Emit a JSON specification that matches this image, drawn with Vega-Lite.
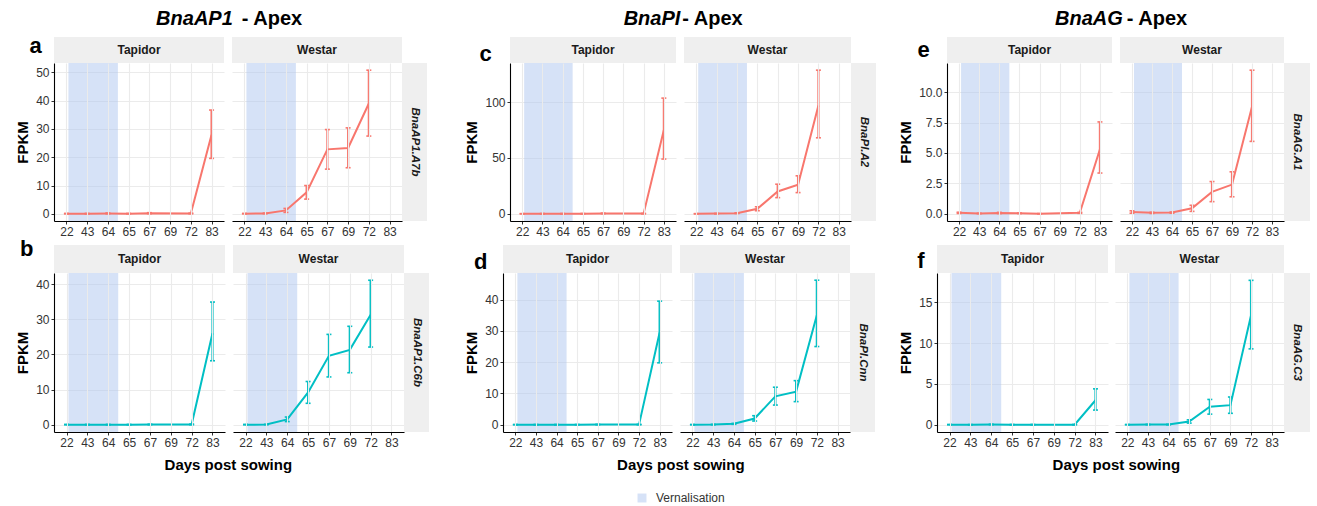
{
"$schema": "https://vega.github.io/schema/vega-lite/v6.json",
"padding": {"left": 15, "top": 9, "right": 0, "bottom": 0},
"config": {
 "font": "Liberation Sans",
 "view": {"stroke": null},
 "axis": {"gridColor": "#ebebeb", "gridWidth": 1.1, "domainColor": "#000000", "domainWidth": 1.1, "tickColor": "#333333", "tickSize": 3, "labelColor": "#333333", "labelFontSize": 12, "labelPadding": 2, "titleFontSize": 15, "titleFontWeight": "bold", "titleColor": "#000000", "titlePadding": 5},
 "title": {"color": "#000000"}
},
"datasets": {
 "vern": [{"start": "22", "end": "64", "label": "Vernalisation"}],
 "expr": [
  {"gene": "BnaAP1.A7b", "cultivar": "Tapidor", "day": "22", "mean": 0.05, "lo": 0, "hi": 0.15},
  {"gene": "BnaAP1.A7b", "cultivar": "Tapidor", "day": "43", "mean": 0.05, "lo": 0, "hi": 0.15},
  {"gene": "BnaAP1.A7b", "cultivar": "Tapidor", "day": "64", "mean": 0.1, "lo": 0, "hi": 0.3},
  {"gene": "BnaAP1.A7b", "cultivar": "Tapidor", "day": "65", "mean": 0.05, "lo": 0, "hi": 0.15},
  {"gene": "BnaAP1.A7b", "cultivar": "Tapidor", "day": "67", "mean": 0.2, "lo": 0.05, "hi": 0.4},
  {"gene": "BnaAP1.A7b", "cultivar": "Tapidor", "day": "72", "mean": 0.1, "lo": 0, "hi": 0.25},
  {"gene": "BnaAP1.A7b", "cultivar": "Tapidor", "day": "83", "mean": 28, "lo": 19.6, "hi": 36.7},
  {"gene": "BnaAP1.A7b", "cultivar": "Westar", "day": "22", "mean": 0.05, "lo": 0, "hi": 0.15},
  {"gene": "BnaAP1.A7b", "cultivar": "Westar", "day": "43", "mean": 0.15, "lo": 0.05, "hi": 0.3},
  {"gene": "BnaAP1.A7b", "cultivar": "Westar", "day": "64", "mean": 1.2, "lo": 0.5, "hi": 1.9},
  {"gene": "BnaAP1.A7b", "cultivar": "Westar", "day": "65", "mean": 7.6, "lo": 5.2, "hi": 10},
  {"gene": "BnaAP1.A7b", "cultivar": "Westar", "day": "67", "mean": 22.8, "lo": 15.8, "hi": 29.8},
  {"gene": "BnaAP1.A7b", "cultivar": "Westar", "day": "69", "mean": 23.3, "lo": 16.3, "hi": 30.4},
  {"gene": "BnaAP1.A7b", "cultivar": "Westar", "day": "72", "mean": 39, "lo": 27.5, "hi": 50.8},
  {"gene": "BnaAP1.C6b", "cultivar": "Tapidor", "day": "22", "mean": 0, "lo": 0, "hi": 0.1},
  {"gene": "BnaAP1.C6b", "cultivar": "Tapidor", "day": "43", "mean": 0, "lo": 0, "hi": 0.1},
  {"gene": "BnaAP1.C6b", "cultivar": "Tapidor", "day": "64", "mean": 0, "lo": 0, "hi": 0.1},
  {"gene": "BnaAP1.C6b", "cultivar": "Tapidor", "day": "65", "mean": 0, "lo": 0, "hi": 0.1},
  {"gene": "BnaAP1.C6b", "cultivar": "Tapidor", "day": "67", "mean": 0.05, "lo": 0, "hi": 0.15},
  {"gene": "BnaAP1.C6b", "cultivar": "Tapidor", "day": "72", "mean": 0.1, "lo": 0, "hi": 0.2},
  {"gene": "BnaAP1.C6b", "cultivar": "Tapidor", "day": "83", "mean": 26, "lo": 18.2, "hi": 34.9},
  {"gene": "BnaAP1.C6b", "cultivar": "Westar", "day": "22", "mean": 0, "lo": 0, "hi": 0.1},
  {"gene": "BnaAP1.C6b", "cultivar": "Westar", "day": "43", "mean": 0.05, "lo": 0, "hi": 0.15},
  {"gene": "BnaAP1.C6b", "cultivar": "Westar", "day": "64", "mean": 1.5, "lo": 0.9, "hi": 2.2},
  {"gene": "BnaAP1.C6b", "cultivar": "Westar", "day": "65", "mean": 9.2, "lo": 6.1, "hi": 12.3},
  {"gene": "BnaAP1.C6b", "cultivar": "Westar", "day": "67", "mean": 19.6, "lo": 13.6, "hi": 25.7},
  {"gene": "BnaAP1.C6b", "cultivar": "Westar", "day": "69", "mean": 21.3, "lo": 14.8, "hi": 28},
  {"gene": "BnaAP1.C6b", "cultivar": "Westar", "day": "72", "mean": 31.3, "lo": 22.1, "hi": 41.1},
  {"gene": "BnaPI.A2", "cultivar": "Tapidor", "day": "22", "mean": 0, "lo": 0, "hi": 0.2},
  {"gene": "BnaPI.A2", "cultivar": "Tapidor", "day": "43", "mean": 0.1, "lo": 0, "hi": 0.3},
  {"gene": "BnaPI.A2", "cultivar": "Tapidor", "day": "64", "mean": 0.1, "lo": 0, "hi": 0.3},
  {"gene": "BnaPI.A2", "cultivar": "Tapidor", "day": "65", "mean": 0.1, "lo": 0, "hi": 0.3},
  {"gene": "BnaPI.A2", "cultivar": "Tapidor", "day": "67", "mean": 0.3, "lo": 0.1, "hi": 0.6},
  {"gene": "BnaPI.A2", "cultivar": "Tapidor", "day": "72", "mean": 0.2, "lo": 0, "hi": 0.4},
  {"gene": "BnaPI.A2", "cultivar": "Tapidor", "day": "83", "mean": 75, "lo": 49, "hi": 103.5},
  {"gene": "BnaPI.A2", "cultivar": "Westar", "day": "22", "mean": 0, "lo": 0, "hi": 0.2},
  {"gene": "BnaPI.A2", "cultivar": "Westar", "day": "43", "mean": 0.2, "lo": 0, "hi": 0.4},
  {"gene": "BnaPI.A2", "cultivar": "Westar", "day": "64", "mean": 0.6, "lo": 0.3, "hi": 0.9},
  {"gene": "BnaPI.A2", "cultivar": "Westar", "day": "65", "mean": 4.5, "lo": 2.8, "hi": 6.3},
  {"gene": "BnaPI.A2", "cultivar": "Westar", "day": "67", "mean": 20, "lo": 14.5, "hi": 26.5},
  {"gene": "BnaPI.A2", "cultivar": "Westar", "day": "69", "mean": 26, "lo": 19, "hi": 34},
  {"gene": "BnaPI.A2", "cultivar": "Westar", "day": "72", "mean": 97, "lo": 68, "hi": 128.5},
  {"gene": "BnaPI.Cnn", "cultivar": "Tapidor", "day": "22", "mean": 0, "lo": 0, "hi": 0.1},
  {"gene": "BnaPI.Cnn", "cultivar": "Tapidor", "day": "43", "mean": 0, "lo": 0, "hi": 0.1},
  {"gene": "BnaPI.Cnn", "cultivar": "Tapidor", "day": "64", "mean": 0, "lo": 0, "hi": 0.1},
  {"gene": "BnaPI.Cnn", "cultivar": "Tapidor", "day": "65", "mean": 0, "lo": 0, "hi": 0.1},
  {"gene": "BnaPI.Cnn", "cultivar": "Tapidor", "day": "67", "mean": 0.05, "lo": 0, "hi": 0.15},
  {"gene": "BnaPI.Cnn", "cultivar": "Tapidor", "day": "72", "mean": 0.05, "lo": 0, "hi": 0.15},
  {"gene": "BnaPI.Cnn", "cultivar": "Tapidor", "day": "83", "mean": 29.5, "lo": 19.8, "hi": 39.5},
  {"gene": "BnaPI.Cnn", "cultivar": "Westar", "day": "22", "mean": 0, "lo": 0, "hi": 0.1},
  {"gene": "BnaPI.Cnn", "cultivar": "Westar", "day": "43", "mean": 0.05, "lo": 0, "hi": 0.15},
  {"gene": "BnaPI.Cnn", "cultivar": "Westar", "day": "64", "mean": 0.3, "lo": 0.15, "hi": 0.45},
  {"gene": "BnaPI.Cnn", "cultivar": "Westar", "day": "65", "mean": 2, "lo": 1.2, "hi": 2.9},
  {"gene": "BnaPI.Cnn", "cultivar": "Westar", "day": "67", "mean": 9.1, "lo": 6.3, "hi": 12},
  {"gene": "BnaPI.Cnn", "cultivar": "Westar", "day": "69", "mean": 10.6, "lo": 7.4, "hi": 14.1},
  {"gene": "BnaPI.Cnn", "cultivar": "Westar", "day": "72", "mean": 35, "lo": 25, "hi": 46.2},
  {"gene": "BnaAG.A1", "cultivar": "Tapidor", "day": "22", "mean": 0.08, "lo": 0.03, "hi": 0.13},
  {"gene": "BnaAG.A1", "cultivar": "Tapidor", "day": "43", "mean": 0.03, "lo": 0.01, "hi": 0.05},
  {"gene": "BnaAG.A1", "cultivar": "Tapidor", "day": "64", "mean": 0.07, "lo": 0.02, "hi": 0.12},
  {"gene": "BnaAG.A1", "cultivar": "Tapidor", "day": "65", "mean": 0.04, "lo": 0.02, "hi": 0.06},
  {"gene": "BnaAG.A1", "cultivar": "Tapidor", "day": "67", "mean": 0, "lo": 0, "hi": 0.02},
  {"gene": "BnaAG.A1", "cultivar": "Tapidor", "day": "72", "mean": 0.08, "lo": 0.04, "hi": 0.12},
  {"gene": "BnaAG.A1", "cultivar": "Tapidor", "day": "83", "mean": 5.3, "lo": 3.35, "hi": 7.55},
  {"gene": "BnaAG.A1", "cultivar": "Westar", "day": "22", "mean": 0.15, "lo": 0.05, "hi": 0.25},
  {"gene": "BnaAG.A1", "cultivar": "Westar", "day": "43", "mean": 0.08, "lo": 0.03, "hi": 0.13},
  {"gene": "BnaAG.A1", "cultivar": "Westar", "day": "64", "mean": 0.1, "lo": 0.05, "hi": 0.15},
  {"gene": "BnaAG.A1", "cultivar": "Westar", "day": "65", "mean": 0.45, "lo": 0.2, "hi": 0.7},
  {"gene": "BnaAG.A1", "cultivar": "Westar", "day": "67", "mean": 1.8, "lo": 1.0, "hi": 2.65},
  {"gene": "BnaAG.A1", "cultivar": "Westar", "day": "69", "mean": 2.4, "lo": 1.4, "hi": 3.45},
  {"gene": "BnaAG.A1", "cultivar": "Westar", "day": "72", "mean": 8.8, "lo": 5.95, "hi": 11.8},
  {"gene": "BnaAG.C3", "cultivar": "Tapidor", "day": "22", "mean": 0, "lo": 0, "hi": 0.03},
  {"gene": "BnaAG.C3", "cultivar": "Tapidor", "day": "43", "mean": 0.01, "lo": 0, "hi": 0.03},
  {"gene": "BnaAG.C3", "cultivar": "Tapidor", "day": "64", "mean": 0.03, "lo": 0.01, "hi": 0.05},
  {"gene": "BnaAG.C3", "cultivar": "Tapidor", "day": "65", "mean": 0.01, "lo": 0, "hi": 0.03},
  {"gene": "BnaAG.C3", "cultivar": "Tapidor", "day": "67", "mean": 0.01, "lo": 0, "hi": 0.03},
  {"gene": "BnaAG.C3", "cultivar": "Tapidor", "day": "72", "mean": 0.01, "lo": 0, "hi": 0.03},
  {"gene": "BnaAG.C3", "cultivar": "Tapidor", "day": "83", "mean": 3, "lo": 1.8, "hi": 4.4},
  {"gene": "BnaAG.C3", "cultivar": "Westar", "day": "22", "mean": 0, "lo": 0, "hi": 0.03},
  {"gene": "BnaAG.C3", "cultivar": "Westar", "day": "43", "mean": 0.02, "lo": 0, "hi": 0.05},
  {"gene": "BnaAG.C3", "cultivar": "Westar", "day": "64", "mean": 0.02, "lo": 0, "hi": 0.05},
  {"gene": "BnaAG.C3", "cultivar": "Westar", "day": "65", "mean": 0.4, "lo": 0.2, "hi": 0.6},
  {"gene": "BnaAG.C3", "cultivar": "Westar", "day": "67", "mean": 2.2, "lo": 1.3, "hi": 3.1},
  {"gene": "BnaAG.C3", "cultivar": "Westar", "day": "69", "mean": 2.4, "lo": 1.4, "hi": 3.4},
  {"gene": "BnaAG.C3", "cultivar": "Westar", "day": "72", "mean": 13.4, "lo": 9.3, "hi": 17.7}
 ]
},
"spacing": 8,
"vconcat": [
{"spacing": 22, "hconcat": [
{"spacing": 35, "hconcat": [
{"title": {"text": "- Apex", "fontSize": 20, "fontWeight": "bold", "anchor": "middle", "align": "left", "dx": 19.5, "offset": -20},
 "vconcat": [
{"title": {"text": "BnaAP1", "fontSize": 20, "fontWeight": "bold", "fontStyle": "italic", "anchor": "middle", "align": "right", "dx": 10.5, "offset": 6},
 "spacing": 1,
 "vconcat": [
  {"columns": 4, "spacing": 0, "bounds": "flush", "concat": [
   {"width": 170, "height": 26, "data": {"values": [{"s": "Tapidor"}]}, "mark": {"type": "text", "fontWeight": "bold", "fontSize": 12, "color": "#1a1a1a"}, "encoding": {"text": {"field": "s"}}, "view": {"fill": "#efefef"},
    "title": {"text": "a", "orient": "left", "angle": 0, "align": "right", "baseline": "middle", "anchor": "middle", "fontSize": 22, "fontWeight": "bold", "offset": 0, "dy": -4}},
   {"width": 8, "height": 26, "data": {"values": [{"s": ""}]}, "mark": "text", "encoding": {"text": {"field": "s"}}},
   {"width": 170, "height": 26, "data": {"values": [{"s": "Westar"}]}, "mark": {"type": "text", "fontWeight": "bold", "fontSize": 12, "color": "#1a1a1a"}, "encoding": {"text": {"field": "s"}}, "view": {"fill": "#efefef"}},
   {"width": 25, "height": 26, "data": {"values": [{"s": ""}]}, "mark": "text", "encoding": {"text": {"field": "s"}}},
   {"width": 170, "height": 158, "layer": [
    {"data": {"name": "vern"}, "mark": {"type": "rect", "color": "#adc6f0", "opacity": 0.5, "xOffset": 2, "x2Offset": 10}, "encoding": {"x": {"field": "start", "type": "ordinal", "scale": {"type": "point", "padding": 0.6, "domain": ["22","43","64","65","67","69","72","83"]}, "axis": {"title": null, "grid": true, "labelAngle": 0}}, "x2": {"field": "end"}}},
    {"data": {"name": "expr"}, "transform": [{"filter": "datum.gene === 'BnaAP1.A7b' && datum.cultivar === 'Tapidor'"}], "mark": {"type": "line", "color": "#F8766D", "strokeWidth": 2},
     "encoding": {"x": {"field": "day", "type": "ordinal", "scale": {"type": "point", "padding": 0.6, "domain": ["22","43","64","65","67","69","72","83"]}, "axis": {"title": null, "grid": true, "labelAngle": 0}}, "y": {"field": "mean", "type": "quantitative", "scale": {"domain": [-2.54, 53.34], "nice": false, "zero": false}, "axis": {"title": "FPKM", "values": [0,10,20,30,40,50], "grid": true}}}},
    {"data": {"name": "expr"}, "transform": [{"filter": "datum.gene === 'BnaAP1.A7b' && datum.cultivar === 'Tapidor'"}], "mark": {"type": "rule", "color": "#F8766D", "strokeWidth": 2.2},
     "encoding": {"x": {"field": "day", "type": "ordinal", "scale": {"type": "point", "padding": 0.6, "domain": ["22","43","64","65","67","69","72","83"]}, "axis": {"title": null, "grid": true, "labelAngle": 0}}, "y": {"field": "lo", "type": "quantitative", "scale": {"domain": [-2.54, 53.34], "nice": false, "zero": false}, "axis": {"title": "FPKM", "values": [0,10,20,30,40,50], "grid": true}}, "y2": {"field": "hi"}}},
    {"data": {"name": "expr"}, "transform": [{"filter": "datum.gene === 'BnaAP1.A7b' && datum.cultivar === 'Tapidor'"}, {"fold": ["lo", "hi"], "as": ["k", "v"]}], "mark": {"type": "tick", "color": "#F8766D", "thickness": 1.6, "size": 5, "opacity": 1, "orient": "horizontal"},
     "encoding": {"x": {"field": "day", "type": "ordinal", "scale": {"type": "point", "padding": 0.6, "domain": ["22","43","64","65","67","69","72","83"]}, "axis": {"title": null, "grid": true, "labelAngle": 0}}, "y": {"field": "v", "type": "quantitative", "scale": {"domain": [-2.54, 53.34], "nice": false, "zero": false}, "axis": {"title": "FPKM", "values": [0,10,20,30,40,50], "grid": true}}}}
   ]},
   {"width": 8, "height": 158, "data": {"values": [{"s": ""}]}, "mark": "text", "encoding": {"text": {"field": "s"}}},
   {"width": 170, "height": 158, "layer": [
    {"data": {"name": "vern"}, "mark": {"type": "rect", "color": "#adc6f0", "opacity": 0.5, "xOffset": 2, "x2Offset": 10}, "encoding": {"x": {"field": "start", "type": "ordinal", "scale": {"type": "point", "padding": 0.6, "domain": ["22","43","64","65","67","69","72","83"]}, "axis": {"title": null, "grid": true, "labelAngle": 0}}, "x2": {"field": "end"}}},
    {"data": {"name": "expr"}, "transform": [{"filter": "datum.gene === 'BnaAP1.A7b' && datum.cultivar === 'Westar'"}], "mark": {"type": "line", "color": "#F8766D", "strokeWidth": 2},
     "encoding": {"x": {"field": "day", "type": "ordinal", "scale": {"type": "point", "padding": 0.6, "domain": ["22","43","64","65","67","69","72","83"]}, "axis": {"title": null, "grid": true, "labelAngle": 0}}, "y": {"field": "mean", "type": "quantitative", "scale": {"domain": [-2.54, 53.34], "nice": false, "zero": false}, "axis": {"title": null, "values": [0,10,20,30,40,50], "grid": true, "labels": false, "ticks": false, "domain": false}}}},
    {"data": {"name": "expr"}, "transform": [{"filter": "datum.gene === 'BnaAP1.A7b' && datum.cultivar === 'Westar'"}], "mark": {"type": "rule", "color": "#F8766D", "strokeWidth": 2.2},
     "encoding": {"x": {"field": "day", "type": "ordinal", "scale": {"type": "point", "padding": 0.6, "domain": ["22","43","64","65","67","69","72","83"]}, "axis": {"title": null, "grid": true, "labelAngle": 0}}, "y": {"field": "lo", "type": "quantitative", "scale": {"domain": [-2.54, 53.34], "nice": false, "zero": false}, "axis": {"title": null, "values": [0,10,20,30,40,50], "grid": true, "labels": false, "ticks": false, "domain": false}}, "y2": {"field": "hi"}}},
    {"data": {"name": "expr"}, "transform": [{"filter": "datum.gene === 'BnaAP1.A7b' && datum.cultivar === 'Westar'"}, {"fold": ["lo", "hi"], "as": ["k", "v"]}], "mark": {"type": "tick", "color": "#F8766D", "thickness": 1.6, "size": 5, "opacity": 1, "orient": "horizontal"},
     "encoding": {"x": {"field": "day", "type": "ordinal", "scale": {"type": "point", "padding": 0.6, "domain": ["22","43","64","65","67","69","72","83"]}, "axis": {"title": null, "grid": true, "labelAngle": 0}}, "y": {"field": "v", "type": "quantitative", "scale": {"domain": [-2.54, 53.34], "nice": false, "zero": false}, "axis": {"title": null, "values": [0,10,20,30,40,50], "grid": true, "labels": false, "ticks": false, "domain": false}}}}
   ]},
   {"width": 25, "height": 158, "data": {"values": [{"s": "BnaAP1.A7b"}]}, "mark": {"type": "text", "angle": 90, "fontStyle": "italic", "fontWeight": "bold", "fontSize": 11.5, "color": "#1a1a1a"}, "encoding": {"text": {"field": "s"}}, "view": {"fill": "#efefef"}}
  ]},
  {"columns": 4, "spacing": 0, "bounds": "flush",
   "title": {"text": "Days post sowing", "orient": "bottom", "anchor": "middle", "fontSize": 15, "fontWeight": "bold", "dx": 6, "offset": 10},
   "concat": [
   {"width": 171, "height": 28, "data": {"values": [{"s": "Tapidor"}]}, "mark": {"type": "text", "fontWeight": "bold", "fontSize": 12, "color": "#1a1a1a"}, "encoding": {"text": {"field": "s"}}, "view": {"fill": "#efefef"},
    "title": {"text": "b", "orient": "left", "angle": 0, "align": "right", "baseline": "middle", "anchor": "middle", "fontSize": 22, "fontWeight": "bold", "offset": 7, "dy": -10}},
   {"width": 8, "height": 28, "data": {"values": [{"s": ""}]}, "mark": "text", "encoding": {"text": {"field": "s"}}},
   {"width": 171, "height": 28, "data": {"values": [{"s": "Westar"}]}, "mark": {"type": "text", "fontWeight": "bold", "fontSize": 12, "color": "#1a1a1a"}, "encoding": {"text": {"field": "s"}}, "view": {"fill": "#efefef"}},
   {"width": 25, "height": 28, "data": {"values": [{"s": ""}]}, "mark": "text", "encoding": {"text": {"field": "s"}}},
   {"width": 171, "height": 159, "layer": [
    {"data": {"name": "vern"}, "mark": {"type": "rect", "color": "#adc6f0", "opacity": 0.5, "xOffset": 2, "x2Offset": 10}, "encoding": {"x": {"field": "start", "type": "ordinal", "scale": {"type": "point", "padding": 0.6, "domain": ["22","43","64","65","67","69","72","83"]}, "axis": {"title": null, "grid": true, "labelAngle": 0}}, "x2": {"field": "end"}}},
    {"data": {"name": "expr"}, "transform": [{"filter": "datum.gene === 'BnaAP1.C6b' && datum.cultivar === 'Tapidor'"}], "mark": {"type": "line", "color": "#00BFC4", "strokeWidth": 2},
     "encoding": {"x": {"field": "day", "type": "ordinal", "scale": {"type": "point", "padding": 0.6, "domain": ["22","43","64","65","67","69","72","83"]}, "axis": {"title": null, "grid": true, "labelAngle": 0}}, "y": {"field": "mean", "type": "quantitative", "scale": {"domain": [-2.06, 43.16], "nice": false, "zero": false}, "axis": {"title": "FPKM", "values": [0,10,20,30,40], "grid": true}}}},
    {"data": {"name": "expr"}, "transform": [{"filter": "datum.gene === 'BnaAP1.C6b' && datum.cultivar === 'Tapidor'"}], "mark": {"type": "rule", "color": "#00BFC4", "strokeWidth": 2.2},
     "encoding": {"x": {"field": "day", "type": "ordinal", "scale": {"type": "point", "padding": 0.6, "domain": ["22","43","64","65","67","69","72","83"]}, "axis": {"title": null, "grid": true, "labelAngle": 0}}, "y": {"field": "lo", "type": "quantitative", "scale": {"domain": [-2.06, 43.16], "nice": false, "zero": false}, "axis": {"title": "FPKM", "values": [0,10,20,30,40], "grid": true}}, "y2": {"field": "hi"}}},
    {"data": {"name": "expr"}, "transform": [{"filter": "datum.gene === 'BnaAP1.C6b' && datum.cultivar === 'Tapidor'"}, {"fold": ["lo", "hi"], "as": ["k", "v"]}], "mark": {"type": "tick", "color": "#00BFC4", "thickness": 1.6, "size": 5, "opacity": 1, "orient": "horizontal"},
     "encoding": {"x": {"field": "day", "type": "ordinal", "scale": {"type": "point", "padding": 0.6, "domain": ["22","43","64","65","67","69","72","83"]}, "axis": {"title": null, "grid": true, "labelAngle": 0}}, "y": {"field": "v", "type": "quantitative", "scale": {"domain": [-2.06, 43.16], "nice": false, "zero": false}, "axis": {"title": "FPKM", "values": [0,10,20,30,40], "grid": true}}}}
   ]},
   {"width": 8, "height": 159, "data": {"values": [{"s": ""}]}, "mark": "text", "encoding": {"text": {"field": "s"}}},
   {"width": 171, "height": 159, "layer": [
    {"data": {"name": "vern"}, "mark": {"type": "rect", "color": "#adc6f0", "opacity": 0.5, "xOffset": 2, "x2Offset": 10}, "encoding": {"x": {"field": "start", "type": "ordinal", "scale": {"type": "point", "padding": 0.6, "domain": ["22","43","64","65","67","69","72","83"]}, "axis": {"title": null, "grid": true, "labelAngle": 0}}, "x2": {"field": "end"}}},
    {"data": {"name": "expr"}, "transform": [{"filter": "datum.gene === 'BnaAP1.C6b' && datum.cultivar === 'Westar'"}], "mark": {"type": "line", "color": "#00BFC4", "strokeWidth": 2},
     "encoding": {"x": {"field": "day", "type": "ordinal", "scale": {"type": "point", "padding": 0.6, "domain": ["22","43","64","65","67","69","72","83"]}, "axis": {"title": null, "grid": true, "labelAngle": 0}}, "y": {"field": "mean", "type": "quantitative", "scale": {"domain": [-2.06, 43.16], "nice": false, "zero": false}, "axis": {"title": null, "values": [0,10,20,30,40], "grid": true, "labels": false, "ticks": false, "domain": false}}}},
    {"data": {"name": "expr"}, "transform": [{"filter": "datum.gene === 'BnaAP1.C6b' && datum.cultivar === 'Westar'"}], "mark": {"type": "rule", "color": "#00BFC4", "strokeWidth": 2.2},
     "encoding": {"x": {"field": "day", "type": "ordinal", "scale": {"type": "point", "padding": 0.6, "domain": ["22","43","64","65","67","69","72","83"]}, "axis": {"title": null, "grid": true, "labelAngle": 0}}, "y": {"field": "lo", "type": "quantitative", "scale": {"domain": [-2.06, 43.16], "nice": false, "zero": false}, "axis": {"title": null, "values": [0,10,20,30,40], "grid": true, "labels": false, "ticks": false, "domain": false}}, "y2": {"field": "hi"}}},
    {"data": {"name": "expr"}, "transform": [{"filter": "datum.gene === 'BnaAP1.C6b' && datum.cultivar === 'Westar'"}, {"fold": ["lo", "hi"], "as": ["k", "v"]}], "mark": {"type": "tick", "color": "#00BFC4", "thickness": 1.6, "size": 5, "opacity": 1, "orient": "horizontal"},
     "encoding": {"x": {"field": "day", "type": "ordinal", "scale": {"type": "point", "padding": 0.6, "domain": ["22","43","64","65","67","69","72","83"]}, "axis": {"title": null, "grid": true, "labelAngle": 0}}, "y": {"field": "v", "type": "quantitative", "scale": {"domain": [-2.06, 43.16], "nice": false, "zero": false}, "axis": {"title": null, "values": [0,10,20,30,40], "grid": true, "labels": false, "ticks": false, "domain": false}}}}
   ]},
   {"width": 25, "height": 159, "data": {"values": [{"s": "BnaAP1.C6b"}]}, "mark": {"type": "text", "angle": 90, "fontStyle": "italic", "fontWeight": "bold", "fontSize": 11.5, "color": "#1a1a1a"}, "encoding": {"text": {"field": "s"}}, "view": {"fill": "#efefef"}}
  ]}
 ]}
 ]},
{"title": {"text": "- Apex", "fontSize": 20, "fontWeight": "bold", "anchor": "middle", "align": "left", "dx": 12, "offset": -20},
 "vconcat": [
{"title": {"text": "BnaPI", "fontSize": 20, "fontWeight": "bold", "fontStyle": "italic", "anchor": "middle", "align": "right", "dx": 10, "offset": 8},
 "spacing": 8,
 "vconcat": [
  {"columns": 5, "spacing": 0, "bounds": "flush", "concat": [
   {"width": 7, "height": 26, "data": {"values": [{"s": ""}]}, "mark": "text", "encoding": {"text": {"field": "s"}}},
   {"width": 166, "height": 26, "data": {"values": [{"s": "Tapidor"}]}, "mark": {"type": "text", "fontWeight": "bold", "fontSize": 12, "color": "#1a1a1a"}, "encoding": {"text": {"field": "s"}}, "view": {"fill": "#efefef"},
    "title": {"text": "c", "orient": "left", "angle": 0, "align": "right", "baseline": "middle", "anchor": "middle", "fontSize": 22, "fontWeight": "bold", "offset": 6, "dy": 4}},
   {"width": 8, "height": 26, "data": {"values": [{"s": ""}]}, "mark": "text", "encoding": {"text": {"field": "s"}}},
   {"width": 167, "height": 26, "data": {"values": [{"s": "Westar"}]}, "mark": {"type": "text", "fontWeight": "bold", "fontSize": 12, "color": "#1a1a1a"}, "encoding": {"text": {"field": "s"}}, "view": {"fill": "#efefef"}},
   {"width": 25, "height": 26, "data": {"values": [{"s": ""}]}, "mark": "text", "encoding": {"text": {"field": "s"}}},
   {"width": 7, "height": 158, "data": {"values": [{"s": ""}]}, "mark": "text", "encoding": {"text": {"field": "s"}}},
   {"width": 166, "height": 158, "layer": [
    {"data": {"name": "vern"}, "mark": {"type": "rect", "color": "#adc6f0", "opacity": 0.5, "xOffset": 2, "x2Offset": 10}, "encoding": {"x": {"field": "start", "type": "ordinal", "scale": {"type": "point", "padding": 0.6, "domain": ["22","43","64","65","67","69","72","83"]}, "axis": {"title": null, "grid": true, "labelAngle": 0}}, "x2": {"field": "end"}}},
    {"data": {"name": "expr"}, "transform": [{"filter": "datum.gene === 'BnaPI.A2' && datum.cultivar === 'Tapidor'"}], "mark": {"type": "line", "color": "#F8766D", "strokeWidth": 2},
     "encoding": {"x": {"field": "day", "type": "ordinal", "scale": {"type": "point", "padding": 0.6, "domain": ["22","43","64","65","67","69","72","83"]}, "axis": {"title": null, "grid": true, "labelAngle": 0}}, "y": {"field": "mean", "type": "quantitative", "scale": {"domain": [-6.4, 134.9], "nice": false, "zero": false}, "axis": {"title": "FPKM", "values": [0,50,100], "grid": true}}}},
    {"data": {"name": "expr"}, "transform": [{"filter": "datum.gene === 'BnaPI.A2' && datum.cultivar === 'Tapidor'"}], "mark": {"type": "rule", "color": "#F8766D", "strokeWidth": 2.2},
     "encoding": {"x": {"field": "day", "type": "ordinal", "scale": {"type": "point", "padding": 0.6, "domain": ["22","43","64","65","67","69","72","83"]}, "axis": {"title": null, "grid": true, "labelAngle": 0}}, "y": {"field": "lo", "type": "quantitative", "scale": {"domain": [-6.4, 134.9], "nice": false, "zero": false}, "axis": {"title": "FPKM", "values": [0,50,100], "grid": true}}, "y2": {"field": "hi"}}},
    {"data": {"name": "expr"}, "transform": [{"filter": "datum.gene === 'BnaPI.A2' && datum.cultivar === 'Tapidor'"}, {"fold": ["lo", "hi"], "as": ["k", "v"]}], "mark": {"type": "tick", "color": "#F8766D", "thickness": 1.6, "size": 5, "opacity": 1, "orient": "horizontal"},
     "encoding": {"x": {"field": "day", "type": "ordinal", "scale": {"type": "point", "padding": 0.6, "domain": ["22","43","64","65","67","69","72","83"]}, "axis": {"title": null, "grid": true, "labelAngle": 0}}, "y": {"field": "v", "type": "quantitative", "scale": {"domain": [-6.4, 134.9], "nice": false, "zero": false}, "axis": {"title": "FPKM", "values": [0,50,100], "grid": true}}}}
   ]},
   {"width": 8, "height": 158, "data": {"values": [{"s": ""}]}, "mark": "text", "encoding": {"text": {"field": "s"}}},
   {"width": 167, "height": 158, "layer": [
    {"data": {"name": "vern"}, "mark": {"type": "rect", "color": "#adc6f0", "opacity": 0.5, "xOffset": 2, "x2Offset": 10}, "encoding": {"x": {"field": "start", "type": "ordinal", "scale": {"type": "point", "padding": 0.6, "domain": ["22","43","64","65","67","69","72","83"]}, "axis": {"title": null, "grid": true, "labelAngle": 0}}, "x2": {"field": "end"}}},
    {"data": {"name": "expr"}, "transform": [{"filter": "datum.gene === 'BnaPI.A2' && datum.cultivar === 'Westar'"}], "mark": {"type": "line", "color": "#F8766D", "strokeWidth": 2},
     "encoding": {"x": {"field": "day", "type": "ordinal", "scale": {"type": "point", "padding": 0.6, "domain": ["22","43","64","65","67","69","72","83"]}, "axis": {"title": null, "grid": true, "labelAngle": 0}}, "y": {"field": "mean", "type": "quantitative", "scale": {"domain": [-6.4, 134.9], "nice": false, "zero": false}, "axis": {"title": null, "values": [0,50,100], "grid": true, "labels": false, "ticks": false, "domain": false}}}},
    {"data": {"name": "expr"}, "transform": [{"filter": "datum.gene === 'BnaPI.A2' && datum.cultivar === 'Westar'"}], "mark": {"type": "rule", "color": "#F8766D", "strokeWidth": 2.2},
     "encoding": {"x": {"field": "day", "type": "ordinal", "scale": {"type": "point", "padding": 0.6, "domain": ["22","43","64","65","67","69","72","83"]}, "axis": {"title": null, "grid": true, "labelAngle": 0}}, "y": {"field": "lo", "type": "quantitative", "scale": {"domain": [-6.4, 134.9], "nice": false, "zero": false}, "axis": {"title": null, "values": [0,50,100], "grid": true, "labels": false, "ticks": false, "domain": false}}, "y2": {"field": "hi"}}},
    {"data": {"name": "expr"}, "transform": [{"filter": "datum.gene === 'BnaPI.A2' && datum.cultivar === 'Westar'"}, {"fold": ["lo", "hi"], "as": ["k", "v"]}], "mark": {"type": "tick", "color": "#F8766D", "thickness": 1.6, "size": 5, "opacity": 1, "orient": "horizontal"},
     "encoding": {"x": {"field": "day", "type": "ordinal", "scale": {"type": "point", "padding": 0.6, "domain": ["22","43","64","65","67","69","72","83"]}, "axis": {"title": null, "grid": true, "labelAngle": 0}}, "y": {"field": "v", "type": "quantitative", "scale": {"domain": [-6.4, 134.9], "nice": false, "zero": false}, "axis": {"title": null, "values": [0,50,100], "grid": true, "labels": false, "ticks": false, "domain": false}}}}
   ]},
   {"width": 25, "height": 158, "data": {"values": [{"s": "BnaPI.A2"}]}, "mark": {"type": "text", "angle": 90, "fontStyle": "italic", "fontWeight": "bold", "fontSize": 11.5, "color": "#1a1a1a"}, "encoding": {"text": {"field": "s"}}, "view": {"fill": "#efefef"}}
  ]},
  {"columns": 4, "spacing": 0, "bounds": "flush",
   "title": {"text": "Days post sowing", "orient": "bottom", "anchor": "middle", "fontSize": 15, "fontWeight": "bold", "dx": 11, "offset": 10},
   "concat": [
   {"width": 169, "height": 28, "data": {"values": [{"s": "Tapidor"}]}, "mark": {"type": "text", "fontWeight": "bold", "fontSize": 12, "color": "#1a1a1a"}, "encoding": {"text": {"field": "s"}}, "view": {"fill": "#efefef"},
    "title": {"text": "d", "orient": "left", "angle": 0, "align": "right", "baseline": "middle", "anchor": "middle", "fontSize": 22, "fontWeight": "bold", "offset": 2, "dy": 3}},
   {"width": 8, "height": 28, "data": {"values": [{"s": ""}]}, "mark": "text", "encoding": {"text": {"field": "s"}}},
   {"width": 170, "height": 28, "data": {"values": [{"s": "Westar"}]}, "mark": {"type": "text", "fontWeight": "bold", "fontSize": 12, "color": "#1a1a1a"}, "encoding": {"text": {"field": "s"}}, "view": {"fill": "#efefef"}},
   {"width": 25, "height": 28, "data": {"values": [{"s": ""}]}, "mark": "text", "encoding": {"text": {"field": "s"}}},
   {"width": 169, "height": 159, "layer": [
    {"data": {"name": "vern"}, "mark": {"type": "rect", "color": "#adc6f0", "opacity": 0.5, "xOffset": 2, "x2Offset": 10}, "encoding": {"x": {"field": "start", "type": "ordinal", "scale": {"type": "point", "padding": 0.6, "domain": ["22","43","64","65","67","69","72","83"]}, "axis": {"title": null, "grid": true, "labelAngle": 0}}, "x2": {"field": "end"}}},
    {"data": {"name": "expr"}, "transform": [{"filter": "datum.gene === 'BnaPI.Cnn' && datum.cultivar === 'Tapidor'"}], "mark": {"type": "line", "color": "#00BFC4", "strokeWidth": 2},
     "encoding": {"x": {"field": "day", "type": "ordinal", "scale": {"type": "point", "padding": 0.6, "domain": ["22","43","64","65","67","69","72","83"]}, "axis": {"title": null, "grid": true, "labelAngle": 0}}, "y": {"field": "mean", "type": "quantitative", "scale": {"domain": [-2.31, 48.5], "nice": false, "zero": false}, "axis": {"title": "FPKM", "values": [0,10,20,30,40], "grid": true}}}},
    {"data": {"name": "expr"}, "transform": [{"filter": "datum.gene === 'BnaPI.Cnn' && datum.cultivar === 'Tapidor'"}], "mark": {"type": "rule", "color": "#00BFC4", "strokeWidth": 2.2},
     "encoding": {"x": {"field": "day", "type": "ordinal", "scale": {"type": "point", "padding": 0.6, "domain": ["22","43","64","65","67","69","72","83"]}, "axis": {"title": null, "grid": true, "labelAngle": 0}}, "y": {"field": "lo", "type": "quantitative", "scale": {"domain": [-2.31, 48.5], "nice": false, "zero": false}, "axis": {"title": "FPKM", "values": [0,10,20,30,40], "grid": true}}, "y2": {"field": "hi"}}},
    {"data": {"name": "expr"}, "transform": [{"filter": "datum.gene === 'BnaPI.Cnn' && datum.cultivar === 'Tapidor'"}, {"fold": ["lo", "hi"], "as": ["k", "v"]}], "mark": {"type": "tick", "color": "#00BFC4", "thickness": 1.6, "size": 5, "opacity": 1, "orient": "horizontal"},
     "encoding": {"x": {"field": "day", "type": "ordinal", "scale": {"type": "point", "padding": 0.6, "domain": ["22","43","64","65","67","69","72","83"]}, "axis": {"title": null, "grid": true, "labelAngle": 0}}, "y": {"field": "v", "type": "quantitative", "scale": {"domain": [-2.31, 48.5], "nice": false, "zero": false}, "axis": {"title": "FPKM", "values": [0,10,20,30,40], "grid": true}}}}
   ]},
   {"width": 8, "height": 159, "data": {"values": [{"s": ""}]}, "mark": "text", "encoding": {"text": {"field": "s"}}},
   {"width": 170, "height": 159, "layer": [
    {"data": {"name": "vern"}, "mark": {"type": "rect", "color": "#adc6f0", "opacity": 0.5, "xOffset": 2, "x2Offset": 10}, "encoding": {"x": {"field": "start", "type": "ordinal", "scale": {"type": "point", "padding": 0.6, "domain": ["22","43","64","65","67","69","72","83"]}, "axis": {"title": null, "grid": true, "labelAngle": 0}}, "x2": {"field": "end"}}},
    {"data": {"name": "expr"}, "transform": [{"filter": "datum.gene === 'BnaPI.Cnn' && datum.cultivar === 'Westar'"}], "mark": {"type": "line", "color": "#00BFC4", "strokeWidth": 2},
     "encoding": {"x": {"field": "day", "type": "ordinal", "scale": {"type": "point", "padding": 0.6, "domain": ["22","43","64","65","67","69","72","83"]}, "axis": {"title": null, "grid": true, "labelAngle": 0}}, "y": {"field": "mean", "type": "quantitative", "scale": {"domain": [-2.31, 48.5], "nice": false, "zero": false}, "axis": {"title": null, "values": [0,10,20,30,40], "grid": true, "labels": false, "ticks": false, "domain": false}}}},
    {"data": {"name": "expr"}, "transform": [{"filter": "datum.gene === 'BnaPI.Cnn' && datum.cultivar === 'Westar'"}], "mark": {"type": "rule", "color": "#00BFC4", "strokeWidth": 2.2},
     "encoding": {"x": {"field": "day", "type": "ordinal", "scale": {"type": "point", "padding": 0.6, "domain": ["22","43","64","65","67","69","72","83"]}, "axis": {"title": null, "grid": true, "labelAngle": 0}}, "y": {"field": "lo", "type": "quantitative", "scale": {"domain": [-2.31, 48.5], "nice": false, "zero": false}, "axis": {"title": null, "values": [0,10,20,30,40], "grid": true, "labels": false, "ticks": false, "domain": false}}, "y2": {"field": "hi"}}},
    {"data": {"name": "expr"}, "transform": [{"filter": "datum.gene === 'BnaPI.Cnn' && datum.cultivar === 'Westar'"}, {"fold": ["lo", "hi"], "as": ["k", "v"]}], "mark": {"type": "tick", "color": "#00BFC4", "thickness": 1.6, "size": 5, "opacity": 1, "orient": "horizontal"},
     "encoding": {"x": {"field": "day", "type": "ordinal", "scale": {"type": "point", "padding": 0.6, "domain": ["22","43","64","65","67","69","72","83"]}, "axis": {"title": null, "grid": true, "labelAngle": 0}}, "y": {"field": "v", "type": "quantitative", "scale": {"domain": [-2.31, 48.5], "nice": false, "zero": false}, "axis": {"title": null, "values": [0,10,20,30,40], "grid": true, "labels": false, "ticks": false, "domain": false}}}}
   ]},
   {"width": 25, "height": 159, "data": {"values": [{"s": "BnaPI.Cnn"}]}, "mark": {"type": "text", "angle": 90, "fontStyle": "italic", "fontWeight": "bold", "fontSize": 11.5, "color": "#1a1a1a"}, "encoding": {"text": {"field": "s"}}, "view": {"fill": "#efefef"}}
  ]}
 ]}
 ]}
]},
{"title": {"text": "- Apex", "fontSize": 20, "fontWeight": "bold", "anchor": "middle", "align": "left", "dx": 22.5, "offset": -20},
 "vconcat": [
{"title": {"text": "BnaAG", "fontSize": 20, "fontWeight": "bold", "fontStyle": "italic", "anchor": "middle", "align": "right", "dx": 18.5, "offset": 8},
 "spacing": 8,
 "vconcat": [
  {"columns": 5, "spacing": 0, "bounds": "flush", "concat": [
   {"width": 10, "height": 26, "data": {"values": [{"s": ""}]}, "mark": "text", "encoding": {"text": {"field": "s"}}},
   {"width": 165, "height": 26, "data": {"values": [{"s": "Tapidor"}]}, "mark": {"type": "text", "fontWeight": "bold", "fontSize": 12, "color": "#1a1a1a"}, "encoding": {"text": {"field": "s"}}, "view": {"fill": "#efefef"},
    "title": {"text": "e", "orient": "left", "angle": 0, "align": "right", "baseline": "middle", "anchor": "middle", "fontSize": 22, "fontWeight": "bold", "offset": 5}},
   {"width": 8, "height": 26, "data": {"values": [{"s": ""}]}, "mark": "text", "encoding": {"text": {"field": "s"}}},
   {"width": 164, "height": 26, "data": {"values": [{"s": "Westar"}]}, "mark": {"type": "text", "fontWeight": "bold", "fontSize": 12, "color": "#1a1a1a"}, "encoding": {"text": {"field": "s"}}, "view": {"fill": "#efefef"}},
   {"width": 26, "height": 26, "data": {"values": [{"s": ""}]}, "mark": "text", "encoding": {"text": {"field": "s"}}},
   {"width": 10, "height": 158, "data": {"values": [{"s": ""}]}, "mark": "text", "encoding": {"text": {"field": "s"}}},
   {"width": 165, "height": 158, "layer": [
    {"data": {"name": "vern"}, "mark": {"type": "rect", "color": "#adc6f0", "opacity": 0.5, "xOffset": 2, "x2Offset": 10}, "encoding": {"x": {"field": "start", "type": "ordinal", "scale": {"type": "point", "padding": 0.6, "domain": ["22","43","64","65","67","69","72","83"]}, "axis": {"title": null, "grid": true, "labelAngle": 0}}, "x2": {"field": "end"}}},
    {"data": {"name": "expr"}, "transform": [{"filter": "datum.gene === 'BnaAG.A1' && datum.cultivar === 'Tapidor'"}], "mark": {"type": "line", "color": "#F8766D", "strokeWidth": 2},
     "encoding": {"x": {"field": "day", "type": "ordinal", "scale": {"type": "point", "padding": 0.6, "domain": ["22","43","64","65","67","69","72","83"]}, "axis": {"title": null, "grid": true, "labelAngle": 0}}, "y": {"field": "mean", "type": "quantitative", "scale": {"domain": [-0.59, 12.39], "nice": false, "zero": false}, "axis": {"title": "FPKM", "values": [0,2.5,5,7.5,10], "format": ".1f", "grid": true}}}},
    {"data": {"name": "expr"}, "transform": [{"filter": "datum.gene === 'BnaAG.A1' && datum.cultivar === 'Tapidor'"}], "mark": {"type": "rule", "color": "#F8766D", "strokeWidth": 2.2},
     "encoding": {"x": {"field": "day", "type": "ordinal", "scale": {"type": "point", "padding": 0.6, "domain": ["22","43","64","65","67","69","72","83"]}, "axis": {"title": null, "grid": true, "labelAngle": 0}}, "y": {"field": "lo", "type": "quantitative", "scale": {"domain": [-0.59, 12.39], "nice": false, "zero": false}, "axis": {"title": "FPKM", "values": [0,2.5,5,7.5,10], "format": ".1f", "grid": true}}, "y2": {"field": "hi"}}},
    {"data": {"name": "expr"}, "transform": [{"filter": "datum.gene === 'BnaAG.A1' && datum.cultivar === 'Tapidor'"}, {"fold": ["lo", "hi"], "as": ["k", "v"]}], "mark": {"type": "tick", "color": "#F8766D", "thickness": 1.6, "size": 5, "opacity": 1, "orient": "horizontal"},
     "encoding": {"x": {"field": "day", "type": "ordinal", "scale": {"type": "point", "padding": 0.6, "domain": ["22","43","64","65","67","69","72","83"]}, "axis": {"title": null, "grid": true, "labelAngle": 0}}, "y": {"field": "v", "type": "quantitative", "scale": {"domain": [-0.59, 12.39], "nice": false, "zero": false}, "axis": {"title": "FPKM", "values": [0,2.5,5,7.5,10], "format": ".1f", "grid": true}}}}
   ]},
   {"width": 8, "height": 158, "data": {"values": [{"s": ""}]}, "mark": "text", "encoding": {"text": {"field": "s"}}},
   {"width": 164, "height": 158, "layer": [
    {"data": {"name": "vern"}, "mark": {"type": "rect", "color": "#adc6f0", "opacity": 0.5, "xOffset": 2, "x2Offset": 10}, "encoding": {"x": {"field": "start", "type": "ordinal", "scale": {"type": "point", "padding": 0.6, "domain": ["22","43","64","65","67","69","72","83"]}, "axis": {"title": null, "grid": true, "labelAngle": 0}}, "x2": {"field": "end"}}},
    {"data": {"name": "expr"}, "transform": [{"filter": "datum.gene === 'BnaAG.A1' && datum.cultivar === 'Westar'"}], "mark": {"type": "line", "color": "#F8766D", "strokeWidth": 2},
     "encoding": {"x": {"field": "day", "type": "ordinal", "scale": {"type": "point", "padding": 0.6, "domain": ["22","43","64","65","67","69","72","83"]}, "axis": {"title": null, "grid": true, "labelAngle": 0}}, "y": {"field": "mean", "type": "quantitative", "scale": {"domain": [-0.59, 12.39], "nice": false, "zero": false}, "axis": {"title": null, "values": [0,2.5,5,7.5,10], "grid": true, "labels": false, "ticks": false, "domain": false}}}},
    {"data": {"name": "expr"}, "transform": [{"filter": "datum.gene === 'BnaAG.A1' && datum.cultivar === 'Westar'"}], "mark": {"type": "rule", "color": "#F8766D", "strokeWidth": 2.2},
     "encoding": {"x": {"field": "day", "type": "ordinal", "scale": {"type": "point", "padding": 0.6, "domain": ["22","43","64","65","67","69","72","83"]}, "axis": {"title": null, "grid": true, "labelAngle": 0}}, "y": {"field": "lo", "type": "quantitative", "scale": {"domain": [-0.59, 12.39], "nice": false, "zero": false}, "axis": {"title": null, "values": [0,2.5,5,7.5,10], "grid": true, "labels": false, "ticks": false, "domain": false}}, "y2": {"field": "hi"}}},
    {"data": {"name": "expr"}, "transform": [{"filter": "datum.gene === 'BnaAG.A1' && datum.cultivar === 'Westar'"}, {"fold": ["lo", "hi"], "as": ["k", "v"]}], "mark": {"type": "tick", "color": "#F8766D", "thickness": 1.6, "size": 5, "opacity": 1, "orient": "horizontal"},
     "encoding": {"x": {"field": "day", "type": "ordinal", "scale": {"type": "point", "padding": 0.6, "domain": ["22","43","64","65","67","69","72","83"]}, "axis": {"title": null, "grid": true, "labelAngle": 0}}, "y": {"field": "v", "type": "quantitative", "scale": {"domain": [-0.59, 12.39], "nice": false, "zero": false}, "axis": {"title": null, "values": [0,2.5,5,7.5,10], "grid": true, "labels": false, "ticks": false, "domain": false}}}}
   ]},
   {"width": 26, "height": 158, "data": {"values": [{"s": "BnaAG.A1"}]}, "mark": {"type": "text", "angle": 90, "fontStyle": "italic", "fontWeight": "bold", "fontSize": 11.5, "color": "#1a1a1a"}, "encoding": {"text": {"field": "s"}}, "view": {"fill": "#efefef"}}
  ]},
  {"columns": 4, "spacing": 0, "bounds": "flush",
   "title": {"text": "Days post sowing", "orient": "bottom", "anchor": "middle", "fontSize": 15, "fontWeight": "bold", "dx": 12, "offset": 10},
   "concat": [
   {"width": 171, "height": 28, "data": {"values": [{"s": "Tapidor"}]}, "mark": {"type": "text", "fontWeight": "bold", "fontSize": 12, "color": "#1a1a1a"}, "encoding": {"text": {"field": "s"}}, "view": {"fill": "#efefef"},
    "title": {"text": "f", "orient": "left", "angle": 0, "align": "right", "baseline": "middle", "anchor": "middle", "fontSize": 22, "fontWeight": "bold", "offset": 5, "dy": 2}},
   {"width": 7, "height": 28, "data": {"values": [{"s": ""}]}, "mark": "text", "encoding": {"text": {"field": "s"}}},
   {"width": 169, "height": 28, "data": {"values": [{"s": "Westar"}]}, "mark": {"type": "text", "fontWeight": "bold", "fontSize": 12, "color": "#1a1a1a"}, "encoding": {"text": {"field": "s"}}, "view": {"fill": "#efefef"}},
   {"width": 26, "height": 28, "data": {"values": [{"s": ""}]}, "mark": "text", "encoding": {"text": {"field": "s"}}},
   {"width": 171, "height": 159, "layer": [
    {"data": {"name": "vern"}, "mark": {"type": "rect", "color": "#adc6f0", "opacity": 0.5, "xOffset": 2, "x2Offset": 10}, "encoding": {"x": {"field": "start", "type": "ordinal", "scale": {"type": "point", "padding": 0.6, "domain": ["22","43","64","65","67","69","72","83"]}, "axis": {"title": null, "grid": true, "labelAngle": 0}}, "x2": {"field": "end"}}},
    {"data": {"name": "expr"}, "transform": [{"filter": "datum.gene === 'BnaAG.C3' && datum.cultivar === 'Tapidor'"}], "mark": {"type": "line", "color": "#00BFC4", "strokeWidth": 2},
     "encoding": {"x": {"field": "day", "type": "ordinal", "scale": {"type": "point", "padding": 0.6, "domain": ["22","43","64","65","67","69","72","83"]}, "axis": {"title": null, "grid": true, "labelAngle": 0}}, "y": {"field": "mean", "type": "quantitative", "scale": {"domain": [-0.89, 18.6], "nice": false, "zero": false}, "axis": {"title": "FPKM", "values": [0,5,10,15], "grid": true}}}},
    {"data": {"name": "expr"}, "transform": [{"filter": "datum.gene === 'BnaAG.C3' && datum.cultivar === 'Tapidor'"}], "mark": {"type": "rule", "color": "#00BFC4", "strokeWidth": 2.2},
     "encoding": {"x": {"field": "day", "type": "ordinal", "scale": {"type": "point", "padding": 0.6, "domain": ["22","43","64","65","67","69","72","83"]}, "axis": {"title": null, "grid": true, "labelAngle": 0}}, "y": {"field": "lo", "type": "quantitative", "scale": {"domain": [-0.89, 18.6], "nice": false, "zero": false}, "axis": {"title": "FPKM", "values": [0,5,10,15], "grid": true}}, "y2": {"field": "hi"}}},
    {"data": {"name": "expr"}, "transform": [{"filter": "datum.gene === 'BnaAG.C3' && datum.cultivar === 'Tapidor'"}, {"fold": ["lo", "hi"], "as": ["k", "v"]}], "mark": {"type": "tick", "color": "#00BFC4", "thickness": 1.6, "size": 5, "opacity": 1, "orient": "horizontal"},
     "encoding": {"x": {"field": "day", "type": "ordinal", "scale": {"type": "point", "padding": 0.6, "domain": ["22","43","64","65","67","69","72","83"]}, "axis": {"title": null, "grid": true, "labelAngle": 0}}, "y": {"field": "v", "type": "quantitative", "scale": {"domain": [-0.89, 18.6], "nice": false, "zero": false}, "axis": {"title": "FPKM", "values": [0,5,10,15], "grid": true}}}}
   ]},
   {"width": 7, "height": 159, "data": {"values": [{"s": ""}]}, "mark": "text", "encoding": {"text": {"field": "s"}}},
   {"width": 169, "height": 159, "layer": [
    {"data": {"name": "vern"}, "mark": {"type": "rect", "color": "#adc6f0", "opacity": 0.5, "xOffset": 2, "x2Offset": 10}, "encoding": {"x": {"field": "start", "type": "ordinal", "scale": {"type": "point", "padding": 0.6, "domain": ["22","43","64","65","67","69","72","83"]}, "axis": {"title": null, "grid": true, "labelAngle": 0}}, "x2": {"field": "end"}}},
    {"data": {"name": "expr"}, "transform": [{"filter": "datum.gene === 'BnaAG.C3' && datum.cultivar === 'Westar'"}], "mark": {"type": "line", "color": "#00BFC4", "strokeWidth": 2},
     "encoding": {"x": {"field": "day", "type": "ordinal", "scale": {"type": "point", "padding": 0.6, "domain": ["22","43","64","65","67","69","72","83"]}, "axis": {"title": null, "grid": true, "labelAngle": 0}}, "y": {"field": "mean", "type": "quantitative", "scale": {"domain": [-0.89, 18.6], "nice": false, "zero": false}, "axis": {"title": null, "values": [0,5,10,15], "grid": true, "labels": false, "ticks": false, "domain": false}}}},
    {"data": {"name": "expr"}, "transform": [{"filter": "datum.gene === 'BnaAG.C3' && datum.cultivar === 'Westar'"}], "mark": {"type": "rule", "color": "#00BFC4", "strokeWidth": 2.2},
     "encoding": {"x": {"field": "day", "type": "ordinal", "scale": {"type": "point", "padding": 0.6, "domain": ["22","43","64","65","67","69","72","83"]}, "axis": {"title": null, "grid": true, "labelAngle": 0}}, "y": {"field": "lo", "type": "quantitative", "scale": {"domain": [-0.89, 18.6], "nice": false, "zero": false}, "axis": {"title": null, "values": [0,5,10,15], "grid": true, "labels": false, "ticks": false, "domain": false}}, "y2": {"field": "hi"}}},
    {"data": {"name": "expr"}, "transform": [{"filter": "datum.gene === 'BnaAG.C3' && datum.cultivar === 'Westar'"}, {"fold": ["lo", "hi"], "as": ["k", "v"]}], "mark": {"type": "tick", "color": "#00BFC4", "thickness": 1.6, "size": 5, "opacity": 1, "orient": "horizontal"},
     "encoding": {"x": {"field": "day", "type": "ordinal", "scale": {"type": "point", "padding": 0.6, "domain": ["22","43","64","65","67","69","72","83"]}, "axis": {"title": null, "grid": true, "labelAngle": 0}}, "y": {"field": "v", "type": "quantitative", "scale": {"domain": [-0.89, 18.6], "nice": false, "zero": false}, "axis": {"title": null, "values": [0,5,10,15], "grid": true, "labels": false, "ticks": false, "domain": false}}}}
   ]},
   {"width": 26, "height": 159, "data": {"values": [{"s": "BnaAG.C3"}]}, "mark": {"type": "text", "angle": 90, "fontStyle": "italic", "fontWeight": "bold", "fontSize": 11.5, "color": "#1a1a1a"}, "encoding": {"text": {"field": "s"}}, "view": {"fill": "#efefef"}}
  ]}
 ]}
 ]}
]},
{"width": 1, "height": 1, "data": {"name": "vern"}, "mark": {"type": "square", "size": 0},
 "encoding": {"color": {"field": "label", "type": "nominal", "scale": {"range": ["#d6e2f7"]},
  "legend": {"orient": "none", "legendX": 582, "legendY": 455, "title": null, "symbolType": "square", "symbolSize": 80, "symbolStrokeWidth": 0, "symbolOpacity": 1, "labelFontSize": 12, "labelOffset": 8, "labelColor": "#333333"}}}}
]
}
